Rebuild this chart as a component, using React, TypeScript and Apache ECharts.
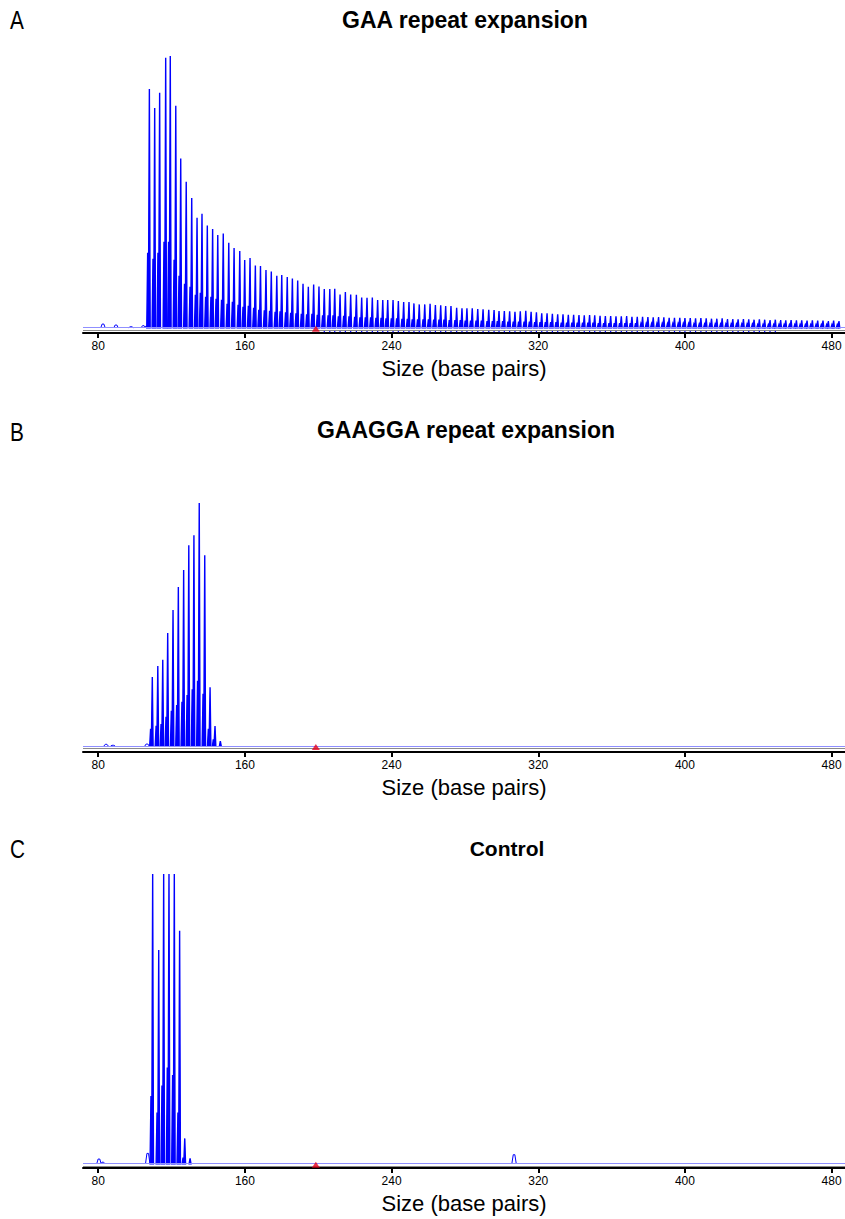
import React, { useEffect, useRef } from "react";
import * as echarts from "echarts";

// ---------- data ----------
const TICK_VALUES = [80, 160, 240, 320, 400, 480];
const X_MIN = 71.7;
const X_MAX = 487.3;
const AXIS_NAME = "Size (base pairs)";
const PANEL_LETTERS = ["A", "B", "C"];
const PANEL_TITLES = ["GAA repeat expansion", "GAAGGA repeat expansion", "Control"];
const SIZE_STANDARD_PEAK = 198.7; // red size-standard marker (bp)

// Panel A: GAA repeat expansion (peak position bp, main peak height, stutter peak height)
const A_POS = [
  107.9, 110.8, 113.5, 116.8, 119.3, 122.3, 125.0, 128.0, 131.0, 133.9,
  136.6, 139.5, 142.4, 145.2, 148.2, 151.2, 154.1, 157.2, 159.9, 162.8,
  165.7, 168.5, 171.5, 174.4, 177.4, 180.1, 183.1, 185.9, 188.8, 191.7,
  194.6, 197.5, 200.4, 203.3, 206.3, 209.0, 211.9, 214.8, 217.7, 220.8,
  223.7, 226.6, 229.5, 232.4, 235.2, 237.9, 240.8, 243.7, 246.6, 249.5,
  252.2, 255.1, 258.1, 261.0, 263.9, 266.8, 269.5, 272.4, 275.5, 278.4,
  281.1, 284.0, 287.0, 289.9, 293.0, 295.9, 298.6, 301.5, 304.4, 307.3,
  310.2, 313.2, 316.1, 319.0, 321.9, 324.8, 327.7, 330.6, 333.5, 336.4,
  339.3, 342.2, 345.1, 348.0, 350.8, 353.7, 356.6, 359.5, 362.4, 365.3,
  368.2, 371.1, 374.0, 376.9, 379.8, 382.7, 385.6, 388.5, 391.4, 394.3,
  397.2, 400.0, 402.9, 405.8, 408.7, 411.6, 414.5, 417.4, 420.3, 423.2,
  426.1, 429.0, 431.9, 434.8, 437.7, 440.6, 443.5, 446.4, 449.3, 452.2,
  455.0, 457.9, 460.8, 463.7, 466.6, 469.5, 472.4, 475.3, 478.2, 481.1,
  484.0,
];
const A_MAIN = [
  238.7, 219.7, 235, 270, 272, 222, 169.3, 146, 129.7, 110,
  114, 102.3, 98.7, 92.7, 94.3, 85, 79.7, 76.7, 67.7, 69.7,
  62.3, 61.7, 57.7, 56.3, 52, 52.7, 50.7, 49.3, 47.3, 44,
  41, 43.3, 41.3, 38.7, 38.7, 39, 33.3, 35.7, 33.3, 33,
  30.3, 30, 30.3, 27.7, 27.7, 27.7, 27.7, 26.7, 25.7, 25.7,
  24.3, 23.3, 23.3, 24, 22.7, 22.3, 21.7, 21.7, 20, 19.3,
  19.3, 19.3, 18.7, 18.3, 18, 17.7, 16.7, 16.7, 16.3, 16,
  16.3, 17, 16, 15.3, 14.3, 14.3, 14, 13.3, 13.3, 13,
  13, 12.7, 12.3, 12.7, 12.3, 12, 11.7, 11.7, 11.3, 11.3,
  11.7, 11, 11, 11, 10.7, 10.3, 10.7, 10.3, 10, 10,
  10, 9.7, 9.7, 9.3, 9.7, 9.3, 9, 9, 9.3, 8.7,
  8.7, 8.3, 8.7, 8.3, 8, 8.3, 8, 7.7, 8, 7.7,
  7.3, 7.7, 7.3, 7.3, 7, 7.3, 7, 7, 6.7, 7,
  6.7,
];
const A_STUTTER = [
  75, 69, 75, 86, 86, 68, 52, 44, 41, 33,
  35, 31, 31, 29, 28, 24, 26, 23, 21, 22,
  20, 18, 17.5, 17, 16, 16.5, 15.5, 15, 14.5, 14,
  13.5, 14, 13, 12.5, 12.5, 12.5, 11.5, 12, 11.5, 11,
  10.5, 10.5, 10.5, 10, 10, 9.5, 9.5, 9.5, 9, 9,
  8.5, 8.5, 8.5, 8.5, 8, 8, 8, 7.5, 7.5, 7.5,
  7, 7, 7, 7, 6.5, 6.5, 6.5, 6.5, 6, 6,
  6, 6, 6, 5.5, 5.5, 5.5, 5.5, 5.5, 5, 5,
  5, 5, 5, 5, 5, 4.5, 4.5, 4.5, 4.5, 4.5,
  4.5, 4.5, 4.5, 4, 4, 4, 4, 4, 4, 4,
  4, 4, 4, 3.5, 3.5, 3.5, 3.5, 3.5, 3.5, 3.5,
  3.5, 3.5, 3.5, 3.5, 3.5, 3, 3, 3, 3, 3,
  3, 3, 3, 3, 3, 3, 3, 3, 3, 3,
  3,
];
const A_NOISE_POS = [82.6, 89.7, 97.9, 104.6, 106.4];
const A_NOISE_H = [3.7, 2.7, 1, 2, 1.5];
const A_CALLED_FROM = 203; // called-peak markers under axis (bp)
const A_CALLED_TO = 450;

// Panel B: GAAGGA repeat expansion
const B_POS = [109.5, 112.5, 115.2, 117.9, 120.8, 123.7, 126.6, 129.4, 132.2, 135.1, 138.1, 141.0, 143.7, 146.6];
const B_MAIN = [69, 80, 86.3, 113, 136, 159, 176, 200.7, 210.7, 243, 190.7, 58.7, 20, 5];
const B_STUTTER = [17.3, 20.3, 22, 29.3, 35.3, 41, 44.3, 51, 56.7, 65.3, 52.3, 17.3, 6.7, 0];
const B_NOISE_POS = [84.3, 88.0, 106.6];
const B_NOISE_H = [1.7, 0.7, 2];

// Panel C: Control
const C_POS = [109.7, 113.0, 115.7, 118.6, 121.5, 124.4, 127.2, 130.1];
const C_MAIN = [330, 213.7, 345, 360, 340, 233, 25.3, 5.3];
const C_STUTTER = [67.7, 51.3, 78.3, 96.3, 88.7, 51.3, 6, 0];
const C_NOISE_POS = [80.4, 82.5, 107.0, 306.8];
const C_NOISE_H = [4.7, 1.5, 10.3, 9];

// ---------- layout ----------
const FONT = "'Liberation Sans', Arial, Helvetica, sans-serif";
const GRID_LEFT = 83;
const GRID_WIDTH = 762;
const PANELS = [
  { top: 56, height: 277, yMin: -5.3, yMax: 271.7, letterY: 20, titleX: 465, titleY: 20, titleSize: 23 },
  { top: 474, height: 278, yMin: -6, yMax: 272, letterY: 432, titleX: 466, titleY: 430, titleSize: 23 },
  { top: 874, height: 294, yMin: -4.3, yMax: 289.7, letterY: 849, titleX: 507, titleY: 848, titleSize: 21 },
];

const peakRender = (params: any, api: any) => {
  const pos = api.value(0);
  const h = api.value(1);
  const s = api.value(2);
  const base = api.coord([pos, 0]);
  const x0 = base[0];
  const y0 = base[1];
  const cs = params.coordSys;
  const top = Math.max(api.coord([pos, h])[1], cs.y);
  const sy = Math.max(api.coord([pos, s])[1], cs.y);
  const valley = y0 - (y0 - sy) * 0.35;
  const points =
    s > 0
      ? [[x0 - 2.6, y0], [x0 - 1.7, sy], [x0 - 0.9, valley], [x0, top], [x0 + 0.8, y0]]
      : [[x0 - 0.9, y0], [x0, top], [x0 + 0.9, y0]];
  return {
    type: "polygon",
    shape: { points },
    style: { fill: "#0000ff", stroke: "#0000ff", lineWidth: 1.4 },
  };
};

const noiseRender = (params: any, api: any) => {
  const pos = api.value(0);
  const h = api.value(1);
  const base = api.coord([pos, 0]);
  const top = api.coord([pos, h]);
  return {
    type: "polyline",
    shape: { points: [[base[0] - 2.2, base[1]], [base[0] - 0.8, top[1]], [base[0] + 0.8, top[1]], [base[0] + 2.2, base[1]]] },
    style: { fill: null, stroke: "#0000ff", lineWidth: 1 },
  };
};

const calledRender = (params: any, api: any) => {
  const pos = api.value(0);
  const p = api.coord([pos, 0]);
  const cs = params.coordSys;
  const yb = cs.y + cs.height;
  return {
    type: "rect",
    shape: { x: p[0] - 0.6, y: yb - 2.4, width: 1.2, height: 1.6 },
    style: { fill: "#0000ff" },
  };
};

export default function App() {
  const ref = useRef<HTMLDivElement>(null);

  useEffect(() => {
    if (!ref.current) return;
    const chart = echarts.init(ref.current, undefined, { renderer: "svg" });

    const peakSets = [
      { pos: A_POS, main: A_MAIN, stut: A_STUTTER, npos: A_NOISE_POS, nh: A_NOISE_H },
      { pos: B_POS, main: B_MAIN, stut: B_STUTTER, npos: B_NOISE_POS, nh: B_NOISE_H },
      { pos: C_POS, main: C_MAIN, stut: C_STUTTER, npos: C_NOISE_POS, nh: C_NOISE_H },
    ];

    const grid = PANELS.map((p) => ({ left: GRID_LEFT, width: GRID_WIDTH, top: p.top, height: p.height }));
    const xAxis = PANELS.map((p, i) => ({
      gridIndex: i,
      type: "value",
      min: X_MIN,
      max: X_MAX,
      axisLine: { show: true, onZero: false, lineStyle: { color: "#000", width: 2 } },
      axisTick: { show: true, customValues: TICK_VALUES, length: 5, lineStyle: { color: "#000", width: 2 } },
      axisLabel: { show: true, customValues: TICK_VALUES, fontSize: 12, color: "#000", margin: 7, fontFamily: FONT },
      splitLine: { show: false },
      name: AXIS_NAME,
      nameLocation: "middle",
      nameGap: 24,
      nameTextStyle: { fontSize: 22, color: "#000", fontFamily: FONT },
    }));
    const yAxis = PANELS.map((p, i) => ({
      gridIndex: i,
      type: "value",
      min: p.yMin,
      max: p.yMax,
      show: false,
    }));

    const series: any[] = [];
    peakSets.forEach((set, i) => {
      series.push({
        type: "custom",
        xAxisIndex: i,
        yAxisIndex: i,
        clip: true,
        silent: true,
        renderItem: noiseRender,
        data: set.npos.map((x, k) => [x, set.nh[k]]),
        z: 2,
      });
      series.push({
        type: "custom",
        xAxisIndex: i,
        yAxisIndex: i,
        clip: true,
        silent: true,
        renderItem: peakRender,
        data: set.pos.map((x, k) => [x, set.main[k], set.stut[k]]),
        z: 3,
        markLine: {
          silent: true,
          symbol: ["none", "none"],
          label: { show: false },
          data: [
            { yAxis: 0, lineStyle: { color: "#8f8fff", width: 1, type: "solid" } },
            { yAxis: -2.2, lineStyle: { color: "#8a8a8a", width: 1, type: "solid" } },
          ],
        },
      });
      series.push({
        type: "scatter",
        xAxisIndex: i,
        yAxisIndex: i,
        silent: true,
        symbol: "triangle",
        symbolSize: [8, 6],
        itemStyle: { color: "#e3001b" },
        data: [[SIZE_STANDARD_PEAK, -1.0]],
        z: 5,
      });
    });
    series.push({
      type: "custom",
      xAxisIndex: 0,
      yAxisIndex: 0,
      silent: true,
      renderItem: calledRender,
      data: A_POS.filter((x) => x >= A_CALLED_FROM && x <= A_CALLED_TO).map((x) => [x, 0]),
      z: 4,
    });

    const graphic: any[] = [];
    PANELS.forEach((p, i) => {
      graphic.push({
        type: "text",
        x: 10,
        y: p.letterY,
        scaleX: 0.8,
        style: { text: PANEL_LETTERS[i], fontSize: 26, fill: "#000", fontFamily: FONT, verticalAlign: "middle", align: "left" },
      });
      graphic.push({
        type: "text",
        x: p.titleX,
        y: p.titleY,
        style: {
          text: PANEL_TITLES[i],
          fontSize: p.titleSize,
          fontWeight: "bold",
          fill: "#000",
          fontFamily: FONT,
          align: "center",
          verticalAlign: "middle",
        },
      });
    });

    chart.setOption({
      animation: false,
      backgroundColor: "#fff",
      grid,
      xAxis,
      yAxis,
      series,
      graphic,
    });

    return () => chart.dispose();
  }, []);

  return <div ref={ref} style={{ position: "absolute", left: 0, top: 0, width: 845, height: 1219 }} />;
}
